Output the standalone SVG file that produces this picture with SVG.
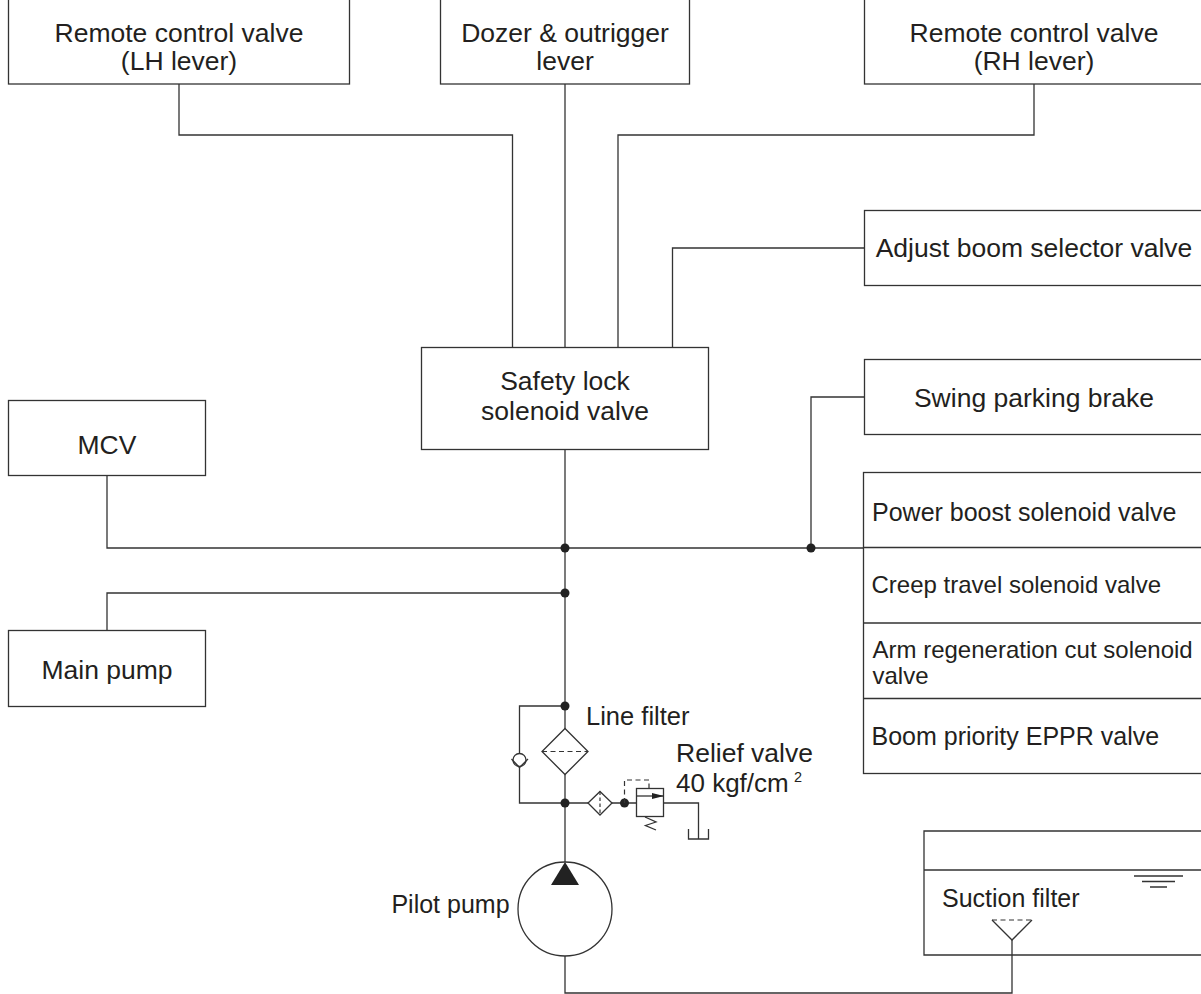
<svg xmlns="http://www.w3.org/2000/svg" width="1201" height="994" viewBox="0 0 1201 994">
<style>
.b{fill:#fff;stroke:#333;stroke-width:1.3}
.l{fill:none;stroke:#333;stroke-width:1.3}
.d{fill:none;stroke:#333;stroke-width:1.2;stroke-dasharray:5 3.5}
.f{fill:#222;stroke:none}
text{font-family:"Liberation Sans",Arial,sans-serif;font-size:26.500px;fill:#231f20;text-anchor:middle}
.s{text-anchor:start}
.st{text-anchor:start}
</style>
<rect width="1201" height="994" fill="#fff"/>
<g id="connectors">
<path class="l" d="M179 84V135H512.500V348"/>
<path class="l" d="M565 84V348"/>
<path class="l" d="M1034 84V135H618V348"/>
<path class="l" d="M864 248H672.500V348"/>
<path class="l" d="M565 449V865"/>
<path class="l" d="M107 475V548H864"/>
<path class="l" d="M864 397H811V548"/>
<path class="l" d="M107 631V593H565"/>
<path class="l" d="M565 706H519.500V803H636"/>
<path class="l" d="M663 803H698.500V839"/>
<path class="l" d="M565 955V993H1012V940"/>
<circle class="f" cx="565" cy="548" r="4.500"/>
<circle class="f" cx="811" cy="548" r="4.500"/>
<circle class="f" cx="565" cy="593" r="4.500"/>
<circle class="f" cx="565" cy="706" r="4.500"/>
<circle class="f" cx="565" cy="803" r="4.500"/>
<circle class="f" cx="624.500" cy="803" r="4.500"/>
</g>
<g id="rcv-lh"><rect class="b" x="8.500" y="-2" width="341" height="86"/><text x="179" y="42">Remote control valve</text><text x="179" y="70">(LH lever)</text></g>
<g id="dozer"><rect class="b" x="440.500" y="-2" width="249" height="86"/><text x="565" y="42">Dozer &amp; outrigger</text><text x="565" y="70">lever</text></g>
<g id="rcv-rh"><rect class="b" x="864.500" y="-2" width="340" height="86"/><text x="1034" y="42">Remote control valve</text><text x="1034" y="70">(RH lever)</text></g>
<g id="adjust-boom"><rect class="b" x="864.500" y="210.500" width="340" height="75"/><text x="1034" y="257">Adjust boom selector valve</text></g>
<g id="safety-lock"><rect class="b" x="421.500" y="347.500" width="287" height="102"/><text x="565" y="390">Safety lock</text><text x="565" y="420">solenoid valve</text></g>
<g id="swing-brake"><rect class="b" x="864.500" y="359.500" width="340" height="75"/><text x="1034" y="407">Swing parking brake</text></g>
<g id="mcv"><rect class="b" x="8.500" y="400.500" width="197" height="75"/><text x="107" y="454">MCV</text></g>
<g id="main-pump"><rect class="b" x="8.500" y="630.500" width="197" height="76"/><text x="107" y="679">Main pump</text></g>
<g id="solenoid-stack">
<rect class="b" x="863.500" y="472.500" width="340" height="301"/>
<path class="l" d="M864 547.500H1204M864 623H1204M864 698.500H1204"/>
<text class="s" x="872" y="521" style="font-size:25px">Power boost solenoid valve</text>
<text class="s" x="871.500" y="593" style="font-size:24px">Creep travel solenoid valve</text>
<text class="s" x="872.500" y="658" style="font-size:24px">Arm regeneration cut solenoid</text>
<text class="s" x="872.500" y="684" style="font-size:24px">valve</text>
<text class="s" x="871.500" y="745" style="font-size:25px">Boom priority EPPR valve</text>
</g>
<g id="line-filter">
<path class="b" d="M565 728.500L588 751.500L565 774.500L542 751.500Z"/>
<path class="d" d="M542 751.500H588"/>
<text class="st" x="586" y="725" style="font-size:25.500px">Line filter</text>
</g>
<g id="check-valve">
<circle class="b" cx="519.500" cy="760" r="6.500"/>
<path class="l" d="M511.500 759L519.500 767.500L528 759"/>
</g>
<g id="small-filter">
<path class="b" d="M600 791.500L612 803L600 815L588 803Z"/>
<path class="d" style="stroke-dasharray:3.500 2.500" d="M600 791.500V815"/>
</g>
<g id="relief-valve">
<path class="d" d="M624.500 803V780H649V788"/>
<rect class="b" x="636.500" y="788.500" width="27" height="28"/>
<path class="l" d="M636.500 796H663.500"/>
<path class="f" d="M652 793L664 796L652 799Z"/>
<path class="l" d="M645 817L656 822L645.500 825.500L656 830"/>
<text class="st" x="676" y="762">Relief valve</text>
<text class="st" x="676" y="792" style="font-size:26px">40 kgf/cm</text>
<text class="st" x="794" y="782" style="font-size:14.500px">2</text>
<path class="l" d="M688.500 829V839H708.500V829"/>
</g>
<g id="pilot-pump">
<circle class="b" cx="565" cy="909" r="47"/>
<path class="f" d="M565 862L579 885H551Z"/>
<text x="450.500" y="913" style="font-size:25px">Pilot pump</text>
</g>
<g id="tank">
<path class="l" d="M1204 831H924V955H1204M924 870H1204"/>
<path class="l" d="M1134 876H1183M1142 881.500H1175M1150 887H1167"/>
<text class="st" x="942" y="907" style="font-size:25px">Suction filter</text>
<path class="l" d="M992 920L1012 940L1032 920"/>
<path class="d" d="M992 920H1032"/>
</g>
</svg>
